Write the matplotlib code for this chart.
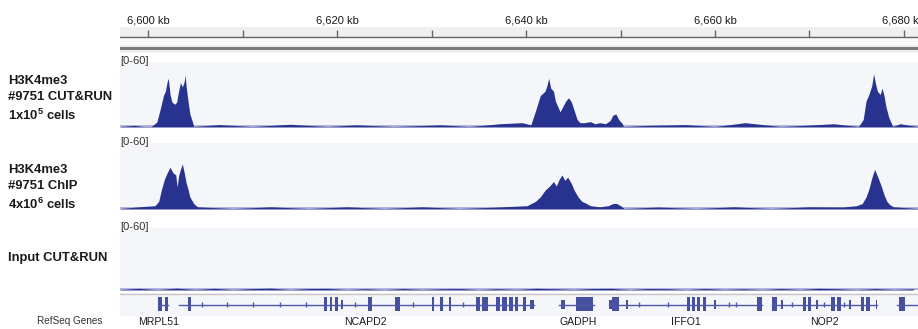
import matplotlib
matplotlib.use("Agg")
import matplotlib.pyplot as plt
from matplotlib import font_manager

W, H = 918, 329
NAVY = "#28338f"
BASE = "#a9acd9"
TRACK_BG = "#f5f6fa"
INK = "#1a1a1a"

_have = {f.name for f in font_manager.fontManager.ttflist}
if "Liberation Sans Narrow" in _have:
    NARROW = "Liberation Sans Narrow"
    LABEL_FS, GENE_FS = 11, 9
else:
    NARROW = "Liberation Sans"
    LABEL_FS, GENE_FS = 9.4, 7.6
SANS = "Liberation Sans" if "Liberation Sans" in _have else "DejaVu Sans"

plt.rcParams["mathtext.fontset"] = "custom"
plt.rcParams["mathtext.rm"] = NARROW
plt.rcParams["mathtext.bf"] = NARROW + ":bold"

# genomic window (kb)
X_MIN, X_MAX = 6597.0, 6681.5
RULER_TICKS = [6600, 6610, 6620, 6630, 6640, 6650, 6660, 6670, 6680]
RULER_LABELS = ["6,600 kb", "", "6,620 kb", "", "6,640 kb", "", "6,660 kb", "", "6,680 kb"]

# ---- coverage (kb, signal 0-60) -------------------------------------------- #
cutrun_pos = [6597.0, 6598.5, 6599.5, 6600.3, 6600.9, 6601.3, 6601.6, 6601.8, 6602.0, 6602.1,
              6602.2, 6602.3, 6602.5, 6602.8, 6603.0, 6603.2, 6603.4, 6603.6, 6603.8, 6603.9,
              6604.0, 6604.2, 6604.4, 6604.7, 6604.8, 6607.5, 6611.0, 6614.0, 6615.0, 6619.0,
              6622.0, 6626.0, 6631.0, 6634.0, 6637.2, 6639.6, 6640.5, 6641.0, 6641.5, 6642.0,
              6642.2, 6642.4, 6642.6, 6642.9, 6643.1, 6643.4, 6643.6, 6643.9, 6644.2, 6644.5,
              6644.8, 6645.1, 6645.4, 6645.7, 6646.2, 6646.8, 6647.3, 6647.8, 6648.4, 6648.9,
              6649.2, 6649.5, 6649.8, 6650.2, 6650.3, 6653.0, 6656.9, 6660.0, 6663.2, 6667.0,
              6672.6, 6675.2, 6675.7, 6676.0, 6676.3, 6676.6, 6676.8, 6677.0, 6677.2, 6677.5,
              6677.7, 6677.9, 6678.1, 6678.4, 6678.7, 6678.8, 6679.6, 6681.5]
cutrun_val = [0.4, 1.5, 0.4, 0.4, 4.6, 18, 29, 33, 42, 45,
              38, 30, 23, 21, 23, 33, 41, 37, 42, 48,
              38, 24, 12, 4, 0.4, 2.2, 0.4, 2.0, 2.5, 0.4,
              2.0, 0.4, 2.0, 0.4, 3.0, 4.0, 2.0, 15, 29, 33,
              38, 45, 36, 33, 24, 18, 14, 19, 24, 27,
              23, 15, 7, 4, 4, 5, 3, 4, 3, 6,
              11, 12, 7, 3, 0.4, 1.5, 2.2, 0.4, 4.0, 0.4,
              3.0, 0.4, 7, 24, 30, 38, 49, 40, 33, 30,
              36, 29, 19, 9, 3, 0.4, 3.0, 0.4]

chip_pos = [6597.0, 6599.0, 6600.7, 6601.1, 6601.4, 6601.7, 6602.0, 6602.3, 6602.6, 6602.9,
            6603.05, 6603.2, 6603.4, 6603.6, 6603.8, 6604.0, 6604.2, 6604.4, 6604.8, 6605.2,
            6609.0, 6613.0, 6617.0, 6621.0, 6625.0, 6629.0, 6633.0, 6637.0, 6640.1, 6641.0,
            6641.5, 6642.0, 6642.5, 6642.9, 6643.2, 6643.5, 6643.8, 6644.1, 6644.4, 6644.8,
            6645.1, 6645.5, 6645.9, 6646.4, 6646.8, 6647.8, 6648.7, 6649.2, 6649.6, 6650.0,
            6650.4, 6654.0, 6658.0, 6662.0, 6666.0, 6670.0, 6673.5, 6675.0, 6675.6, 6676.0,
            6676.3, 6676.6, 6676.9, 6677.2, 6677.6, 6677.9, 6678.2, 6678.5, 6678.9, 6681.5]
chip_val = [0.4, 2.0, 3, 7, 18, 27, 33, 38, 33, 31,
            20, 30, 36, 41, 33, 24, 18, 11, 5, 2,
            0.4, 2.0, 0.4, 2.0, 0.4, 2.0, 0.4, 1.8, 3, 7,
            11, 17, 21, 25, 21, 27, 31, 26, 29, 23,
            17, 11, 7, 5, 3, 2, 3, 5, 5, 3,
            0.4, 1.8, 0.4, 2.0, 0.4, 2.0, 1.8, 3, 5, 11,
            18, 28, 36, 30, 21, 13, 7, 4, 2, 0.4]

input_pos = [6597, 6599, 6601, 6603, 6605, 6607, 6609, 6611, 6613, 6615, 6617, 6619, 6621,
             6623, 6625, 6627, 6629, 6631, 6633, 6635, 6637, 6639, 6641, 6643, 6645, 6647,
             6649, 6651, 6653, 6655, 6657, 6659, 6661, 6663, 6665, 6667, 6669, 6671, 6673,
             6675, 6677, 6679, 6681]
input_val = [0.5, 1.6, 0.4, 1.8, 0.5, 1.6, 0.4, 1.4, 1.8, 0.4, 1.4, 1.6, 0.4,
             1.2, 0.4, 1.4, 0.5, 1.2, 1.4, 0.4, 1.2, 0.5, 1.6, 1.2, 0.5, 1.4,
             1.6, 0.4, 1.4, 1.2, 0.4, 1.4, 0.5, 1.2, 0.4, 1.4, 0.5, 1.6, 1.2,
             0.4, 1.4, 0.5, 1.2]

TRACK_LABELS = [
    "H3K4me3\n#9751 CUT&RUN\n1x10$^{\\mathbf{5}}$ cells",
    "H3K4me3\n#9751 ChIP\n4x10$^{\\mathbf{6}}$ cells",
    "Input CUT&RUN",
]
TRACK_RANGE = "[0-60]"

# ---- RefSeq gene models (kb) ----------------------------------------------- #
gene_names = ["MRPL51", "NCAPD2", "GADPH", "IFFO1", "NOP2"]
gene_label_x = [6601.1, 6623.0, 6645.5, 6656.9, 6671.6]
intron_spans = [(6601.1, 6602.1), (6603.2, 6640.8), (6643.5, 6647.2),
                (6648.8, 6665.0), (6666.0, 6677.2), (6679.3, 6681.5)]
exons_tall = [(6601.05, 0.35), (6601.75, 0.35), (6604.2, 0.3), (6618.6, 0.3), (6619.2, 0.3),
              (6619.8, 0.3), (6623.3, 0.4), (6626.1, 0.5), (6630.0, 0.3), (6630.9, 0.3),
              (6631.8, 0.3), (6634.7, 0.4), (6635.3, 0.7), (6636.8, 0.4), (6637.4, 0.6),
              (6638.2, 0.4), (6638.8, 0.3), (6639.7, 0.3), (6645.3, 1.8), (6649.1, 0.7),
              (6657.0, 0.4), (6657.6, 0.3), (6658.1, 0.3), (6658.7, 0.3), (6664.4, 0.6),
              (6666.0, 0.6), (6669.3, 0.3), (6669.8, 0.4), (6672.3, 0.4), (6672.9, 0.4),
              (6675.5, 0.3), (6676.0, 0.4), (6679.5, 0.6)]
exons_short = [(6603.2, 0.1), (6620.4, 0.2), (6640.4, 0.4), (6643.7, 0.4), (6648.8, 0.3),
               (6650.6, 0.2), (6659.9, 0.2), (6667.0, 0.2), (6670.7, 0.2), (6674.2, 0.2),
               (6677.0, 0.2)]
intron_marks = [6605.7, 6608.3, 6611.1, 6613.9, 6616.7, 6621.9, 6628.0, 6633.3,
                6652.0, 6655.0, 6661.5, 6662.2, 6668.2, 6671.5, 6673.7]


def box(x0, y0, x1, y1):
    return [x0 / W, 1 - y1 / H, (x1 - x0) / W, (y1 - y0) / H]


def bare(ax):
    ax.set_xticks([]); ax.set_yticks([])
    for s in ax.spines.values():
        s.set_visible(False)


fig = plt.figure(figsize=(W / 100, H / 100), dpi=100)
fig.patch.set_facecolor("white")

# ---- ruler ----------------------------------------------------------------- #
rax = fig.add_axes(box(120, 27, 918, 53))
rax.set_xlim(X_MIN, X_MAX); rax.set_ylim(0, 1)
rax.set_facecolor("#f0f0f0")
rax.axhspan(0.3, 0.6, color="#fafafa", lw=0)
rax.axhline(0.6, color="#666666", lw=1.0)
rax.axhline(0.21, color="#7a7a7a", lw=2.2)
rax.vlines(RULER_TICKS, 0.6, 0.88, color="#666666", lw=1.0)
bare(rax)
for t, lab in zip(RULER_TICKS, RULER_LABELS):
    if lab:
        rax.text(t, 1.25, lab, ha="center", va="center", fontsize=8, color=INK,
                 family=SANS, clip_on=False)

# ---- coverage tracks -------------------------------------------------------- #
tracks = [((62, 127), cutrun_pos, cutrun_val),
          ((143, 209), chip_pos, chip_val),
          ((228, 290), input_pos, input_val)]
for (y0, y1), pos, val in tracks:
    ax = fig.add_axes(box(120, y0, 918, y1))
    ax.set_xlim(X_MIN, X_MAX); ax.set_ylim(0, 60)
    ax.set_facecolor(TRACK_BG)
    ax.axhline(0.9, color=BASE, lw=2.0, zorder=1)
    ax.fill_between(pos, 0, val, color=NAVY, lw=0, zorder=2)
    bare(ax)
    fig.text(120 / W, 1 - (y0 - 1.5) / H, TRACK_RANGE, ha="left", va="center",
             fontsize=8, color="#333333", family=SANS)

for lab, yc, ls in zip(TRACK_LABELS, (99, 188, 258), (1.45, 1.45, 1.0)):
    fig.text(8 / W, 1 - yc / H, lab, ha="left", va="center", fontsize=LABEL_FS,
             fontweight="bold", family=NARROW, linespacing=ls, color=INK)

# ---- gene track ------------------------------------------------------------- #
gax = fig.add_axes(box(120, 293, 918, 316))
gax.set_xlim(X_MIN, X_MAX); gax.set_ylim(0, 1)
gax.set_facecolor(TRACK_BG)
gax.axhline(0.97, color="#c8c8c8", lw=1.0)
for a, b in intron_spans:
    gax.plot([a, b], [0.5, 0.5], color="#5058ab", lw=1.0)
gax.broken_barh(exons_tall, (0.2, 0.62), color=NAVY, lw=0, alpha=0.85)
gax.broken_barh(exons_short, (0.32, 0.38), color=NAVY, lw=0, alpha=0.85)
gax.vlines(intron_marks, 0.4, 0.6, color="#5058ab", lw=1.0)
bare(gax)

for name, x in zip(gene_names, gene_label_x):
    gax.text(x, -0.24, name, ha="center", va="center", fontsize=GENE_FS, color=INK,
             family=NARROW, clip_on=False)
fig.text(70 / W, 1 - 321 / H, "RefSeq Genes", ha="center", va="center", fontsize=7.2,
         color="#333333", family=NARROW)

fig.savefig("out.png", dpi=100, facecolor="white")
